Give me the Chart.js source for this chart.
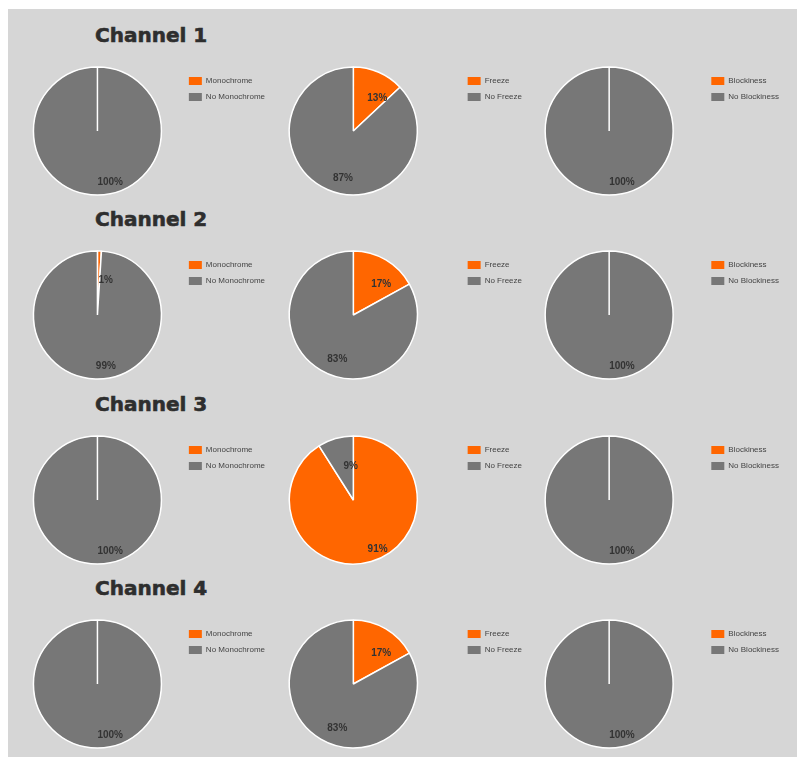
<!DOCTYPE html>
<html lang="en">
<head>
    <meta charset="UTF-8">
    <script src="https://cdn.jsdelivr.net/npm/chart.js@4.4.0/dist/chart.umd.min.js"></script>
    <title>Channel Quality</title>
    <style>
        body { margin: 0; background: #fff; width: 800px; height: 757px; overflow: hidden; position: relative; }
        #panel { position: absolute; left: 8px; top: 9px; width: 789px; height: 748px; background: #d6d6d6; }
        h2 {
            position: absolute; margin: 0; left: 95px;
            font-family: "DejaVu Sans", sans-serif; font-weight: bold; font-size: 20px; line-height: 20px;
            color: #2e2e2e; -webkit-text-stroke: 0.6px #2e2e2e;
        }
        canvas { position: absolute; }
    </style>
</head>
<body>
    <div id="panel"></div>

    <script>
        // one row per channel, one pie per check
        const channels = ['Channel 1', 'Channel 2', 'Channel 3', 'Channel 4'];
        const checks = ['Monochrome', 'Freeze', 'Blockiness'];

        const monochrome   = [0, 1, 0, 0];
        const noMonochrome = [100, 99, 100, 100];
        const freeze       = [13, 17, 91, 17];
        const noFreeze     = [87, 83, 9, 83];
        const blockiness   = [0, 0, 0, 0];
        const noBlockiness = [100, 100, 100, 100];

        const hits = [monochrome, freeze, blockiness];
        const misses = [noMonochrome, noFreeze, noBlockiness];

        // layout
        const pieX = [97, 353, 609];
        const legendX = [188, 467, 711];
        const rowY = [131, 315, 500, 684];
        const radius = 64;
        const canvasH = 134;

        const orange = '#ff6600';
        const grey = '#777777';
        const legendFont = '8px "Liberation Sans", Arial, sans-serif';

        // width chart.js gives a vertical legend: padding + box + gap + text + 10
        const measure = document.createElement('canvas').getContext('2d');
        measure.font = legendFont;
        const legendWidth = (texts) => 8 + 13 + 4 + Math.max(...texts.map(t => measure.measureText(t).width)) + 10;

        // percent text on each slice
        const sliceLabels = {
            id: 'sliceLabels',
            afterDatasetsDraw(chart) {
                const ctx = chart.ctx;
                const meta = chart.getDatasetMeta(0);
                const values = chart.data.datasets[0].data;
                const total = values.reduce((a, b) => a + b, 0);
                ctx.save();
                ctx.font = 'bold 10px "Liberation Sans", Arial, sans-serif';
                ctx.fillStyle = '#333';
                ctx.textAlign = 'left';
                ctx.textBaseline = 'middle';
                meta.data.forEach((arc, i) => {
                    if (!values[i]) return;
                    const p = arc.getProps(['x', 'y', 'startAngle', 'endAngle', 'outerRadius'], true);
                    const share = values[i] / total;
                    const mid = (p.startAngle + p.endAngle) / 2;
                    const r = p.outerRadius * (share < 0.25 ? 0.55 : 0.8);
                    ctx.fillText(Math.round(share * 100) + '%', p.x + Math.cos(mid) * r, p.y + Math.sin(mid) * r);
                });
                ctx.restore();
            }
        };

        const baseLabels = Chart.overrides.pie.plugins.legend.labels.generateLabels;

        channels.forEach((name, row) => {
            const title = document.createElement('h2');
            title.textContent = name;
            title.style.top = (rowY[row] - 106) + 'px';
            document.body.appendChild(title);

            checks.forEach((check, col) => {
                const labels = [check, 'No ' + check];
                const areaW = 2 * (legendX[col] - 8 - pieX[col]);
                const canvas = document.createElement('canvas');
                canvas.width = Math.ceil(areaW + legendWidth(labels));
                canvas.height = canvasH;
                canvas.style.left = (pieX[col] - areaW / 2) + 'px';
                canvas.style.top = (rowY[row] - canvasH / 2 + 1) + 'px';
                document.body.appendChild(canvas);

                new Chart(canvas.getContext('2d'), {
                    type: 'pie',
                    data: {
                        labels: labels,
                        datasets: [{
                            data: [hits[col][row], misses[col][row]],
                            backgroundColor: [orange, grey],
                            borderColor: '#ffffff',
                            borderWidth: 1.5
                        }]
                    },
                    options: {
                        responsive: false,
                        animation: false,
                        radius: radius,
                        layout: { padding: { left: 0, right: 0, top: 4, bottom: 6 } },
                        plugins: {
                            tooltip: { enabled: false },
                            legend: {
                                position: 'right',
                                align: 'start',
                                labels: {
                                    boxWidth: 13,
                                    boxHeight: 8,
                                    padding: 8,
                                    color: '#444',
                                    font: { size: 8, family: '"Liberation Sans", Arial, sans-serif' },
                                    generateLabels: (c) => baseLabels(c).map(item => Object.assign(item, { lineWidth: 0 }))
                                }
                            }
                        }
                    },
                    plugins: [sliceLabels]
                });
            });
        });
    </script>
</body>
</html>
